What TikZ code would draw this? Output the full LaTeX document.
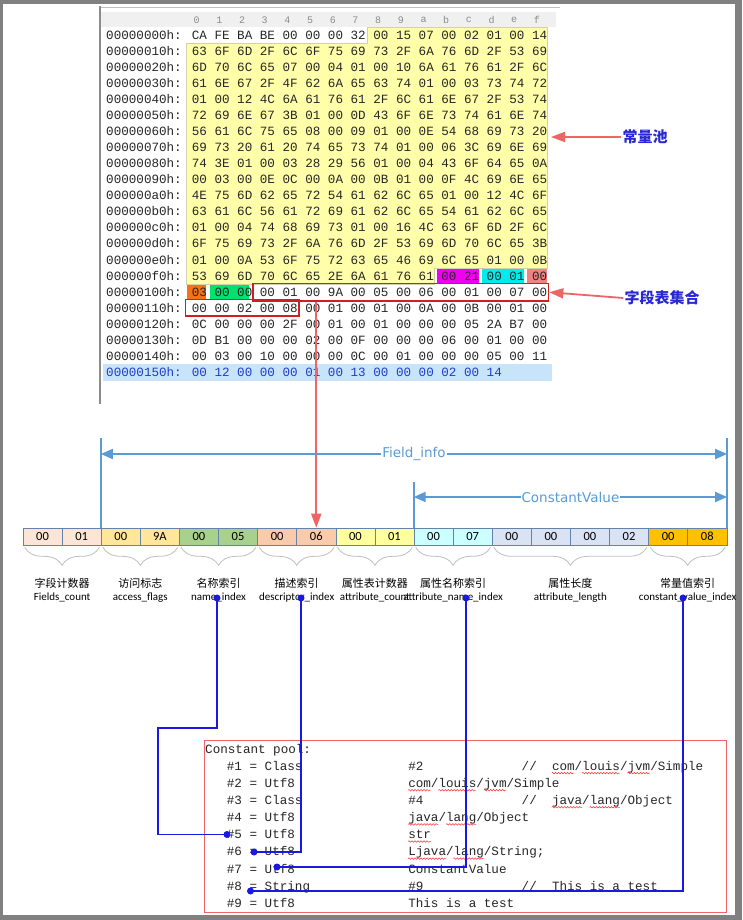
\documentclass[tikz,border=0pt]{standalone}
\usepackage{fontspec}
\newfontfamily\hexfont{Liberation Mono}
\newfontfamily\cjkfont{Noto Sans CJK SC}
\newfontfamily\latinfont{Carlito}
\newfontfamily\dimfont{DejaVu Sans}
\usepackage{tikz}
\usetikzlibrary{calc, arrows.meta, positioning, decorations.pathreplacing, decorations.pathmorphing}
\definecolor{framegray}{RGB}{128,128,128}
\definecolor{hexyellow}{RGB}{255,255,170}
\definecolor{hexmagenta}{RGB}{240,0,240}
\definecolor{hexcyan}{RGB}{0,235,235}
\definecolor{hexsalmon}{RGB}{240,130,130}
\definecolor{hexorange}{RGB}{245,115,20}
\definecolor{hexgreen}{RGB}{0,225,110}
\definecolor{rowblue}{RGB}{200,228,250}
\definecolor{addrblue}{RGB}{30,60,200}
\definecolor{boxred}{RGB}{210,30,30}
\definecolor{arrowred}{RGB}{240,100,100}
\definecolor{dimblue}{RGB}{91,155,213}
\definecolor{linkblue}{RGB}{25,25,225}
\definecolor{labelblue}{RGB}{40,40,215}
\definecolor{cellline}{RGB}{100,130,170}
\definecolor{cpeach}{RGB}{252,228,214}
\definecolor{cgold}{RGB}{255,230,153}
\definecolor{cgreen}{RGB}{169,209,142}
\definecolor{csalmon}{RGB}{248,203,173}
\definecolor{cyellow}{RGB}{255,255,160}
\definecolor{ccyan}{RGB}{204,255,255}
\definecolor{clav}{RGB}{218,227,243}
\definecolor{corange}{RGB}{255,192,0}

\begin{document}
\begin{tikzpicture}[
  x=1pt, y=-1pt,
  hexrow/.style={anchor=base west, inner sep=0pt, font=\hexfont\fontsize{12.6}{15}\selectfont, text=black!85},
  coldigit/.style={inner sep=0pt, font=\hexfont\fontsize{10}{12}\selectfont, text=black!45},
  cell/.style={draw=cellline, line width=0.6pt, minimum width=39.1pt, minimum height=17pt,
    inner sep=0pt, font=\latinfont\fontsize{12.5}{14}\selectfont},
  fieldbrace/.style={draw=black!25, line width=0.8pt, decorate, decoration={brace, mirror, amplitude=18pt}},
  cnlabel/.style={inner sep=0pt, font=\cjkfont\fontsize{11}{13}\selectfont},
  enlabel/.style={inner sep=0pt, font=\latinfont\fontsize{11}{13}\selectfont},
  dimline/.style={draw=dimblue, line width=2pt},
  dimarrow/.style={dimline, {Triangle[length=12pt,width=10pt]}-{Triangle[length=12pt,width=10pt]}},
  dimtext/.style={fill=white, inner sep=1pt, text=dimblue, font=\dimfont\fontsize{13.5}{15}\selectfont},
  redbox/.style={draw=boxred, line width=1.6pt, inner sep=0pt},
  redarrow/.style={draw=arrowred, line width=1.8pt, -{Triangle[length=14pt,width=10pt]}},
  callout/.style={inner sep=1pt, text=labelblue, font=\cjkfont\bfseries\fontsize{15}{17}\selectfont},
  link/.style={draw=linkblue, line width=1.8pt},
  linkdot/.style={circle, fill=linkblue, inner sep=0pt, minimum size=7pt},
  spellwave/.style={draw=red!80, line width=0.5pt, decorate, decoration={snake, amplitude=0.8pt, segment length=3pt}}
]
\useasboundingbox (0,0) rectangle (742,920);
% screenshot frame
\fill[framegray] (0,0) rectangle (742,920);
\fill[white] (3,4) rectangle (735,915);

% hex editor panel
\draw[black!25] (100,7) -- (560,7);
\fill[black!6] (101,12) rectangle (556,27);
\draw[black!45, line width=1.2pt] (100,6) -- (100,404);
\foreach \j/\d in {0/0,1/1,2/2,3/3,4/4,5/5,6/6,7/7,8/8,9/9,10/a,11/b,12/c,13/d,14/e,15/f}
  \node[coldigit] (col\j) at ({196.7+22.68*\j},20) {\d};

% highlighted bytes
\filldraw[fill=hexyellow, draw=hexyellow!70!black!60, line width=0.6pt]
  (367.6,27) -- (547.5,27) -- (547.5,267.8) -- (434.1,267.8) -- (434.1,283.8)
  -- (186,283.8) -- (186,43) -- (367.6,43) -- cycle;
\fill[hexmagenta] (436.7,268.5) rectangle (478.5,283);
\fill[hexcyan] (482,268.5) rectangle (523.8,283);
\fill[hexsalmon] (527.4,268.5) rectangle (546.5,283);
\fill[hexorange] (187.2,284.5) rectangle (206.3,299);
\fill[hexgreen] (209.9,284.5) rectangle (249,299);
\fill[rowblue] (103,364) rectangle (552,380.5);

\foreach \i/\addr/\bytes in {
  0/00000000h/{CA FE BA BE 00 00 00 32 00 15 07 00 02 01 00 14},
  1/00000010h/{63 6F 6D 2F 6C 6F 75 69 73 2F 6A 76 6D 2F 53 69},
  2/00000020h/{6D 70 6C 65 07 00 04 01 00 10 6A 61 76 61 2F 6C},
  3/00000030h/{61 6E 67 2F 4F 62 6A 65 63 74 01 00 03 73 74 72},
  4/00000040h/{01 00 12 4C 6A 61 76 61 2F 6C 61 6E 67 2F 53 74},
  5/00000050h/{72 69 6E 67 3B 01 00 0D 43 6F 6E 73 74 61 6E 74},
  6/00000060h/{56 61 6C 75 65 08 00 09 01 00 0E 54 68 69 73 20},
  7/00000070h/{69 73 20 61 20 74 65 73 74 01 00 06 3C 69 6E 69},
  8/00000080h/{74 3E 01 00 03 28 29 56 01 00 04 43 6F 64 65 0A},
  9/00000090h/{00 03 00 0E 0C 00 0A 00 0B 01 00 0F 4C 69 6E 65},
  10/000000a0h/{4E 75 6D 62 65 72 54 61 62 6C 65 01 00 12 4C 6F},
  11/000000b0h/{63 61 6C 56 61 72 69 61 62 6C 65 54 61 62 6C 65},
  12/000000c0h/{01 00 04 74 68 69 73 01 00 16 4C 63 6F 6D 2F 6C},
  13/000000d0h/{6F 75 69 73 2F 6A 76 6D 2F 53 69 6D 70 6C 65 3B},
  14/000000e0h/{01 00 0A 53 6F 75 72 63 65 46 69 6C 65 01 00 0B},
  15/000000f0h/{53 69 6D 70 6C 65 2E 6A 61 76 61 00 21 00 01 00},
  16/00000100h/{03 00 00 00 01 00 9A 00 05 00 06 00 01 00 07 00},
  17/00000110h/{00 00 02 00 08 00 01 00 01 00 0A 00 0B 00 01 00},
  18/00000120h/{0C 00 00 00 2F 00 01 00 01 00 00 00 05 2A B7 00},
  19/00000130h/{0D B1 00 00 00 02 00 0F 00 00 00 06 00 01 00 00},
  20/00000140h/{00 03 00 10 00 00 00 0C 00 01 00 00 00 05 00 11}}
  \node[hexrow] (row\i) at (106,{39.3+16.05*\i}) {\addr: \bytes};
\node[hexrow, text=addrblue] (row21) at (106,{39.3+16.05*21}) {00000150h: 00 12 00 00 00 01 00 13 00 00 00 02 00 14};

\node[redbox, minimum width=295.5pt, minimum height=17.5pt] (fbox1) at (400.75,292.25) {};
\node[redbox, minimum width=113.5pt, minimum height=16.5pt] (fbox2) at (242.25,307.75) {};

% callouts
\node[callout] (poolLbl) at (645,137) {常量池};
\coordinate (poolEdge) at (551,137);
\draw[redarrow] (poolLbl.west) -- (poolEdge);
\node[callout] (fieldLbl) at (662,298) {字段表集合};
\draw[redarrow] (fieldLbl.west) -- (fbox1.east);

% field_info bytes
\foreach \i/\v/\c in {0/00/cpeach, 1/01/cpeach, 2/00/cgold, 3/9A/cgold, 4/00/cgreen, 5/05/cgreen,
  6/00/csalmon, 7/06/csalmon, 8/00/cyellow, 9/01/cyellow, 10/00/ccyan, 11/07/ccyan,
  12/00/clav, 13/00/clav, 14/00/clav, 15/02/clav, 16/00/corange, 17/08/corange}
  \node[cell, fill=\c] (c\i) at ({42.55+39.1*\i},536.5) {\v};

\draw[redarrow] (fbox1.south -| c7.north) -- (c7.north);

\foreach \a/\b/\cn/\en/\g in {0/1/字段计数器/Fields\_count/0, 2/3/访问标志/access\_flags/1,
  4/5/名称索引/name\_index/2, 6/7/描述索引/descriptor\_index/3,
  8/9/属性表计数器/attribute\_count/4, 10/11/属性名称索引/attribute\_name\_index/5,
  12/15/属性长度/attribute\_length/6, 16/17/常量值索引/constant\_value\_index/7}{
  \draw[fieldbrace] ([xshift=2pt,yshift=-2pt]c\a.south west) -- ([xshift=-2pt,yshift=-2pt]c\b.south east);
  \node[cnlabel] (cn\g) at ($(c\a.south west)!0.5!(c\b.south east)+(0,38)$) {\cn};
  \node[enlabel] (en\g) at ($(c\a.south west)!0.5!(c\b.south east)+(0,52)$) {\en};
}

% dimension lines
\coordinate (fieldY) at (0,454);
\coordinate (constY) at (0,497);
\draw[dimline] (c2.north west) -- ++(0,-90);
\draw[dimline] (c17.north east) -- ++(0,-90);
\draw[dimline] (c10.north west) -- ++(0,-46);
\draw[dimarrow] (c2.north west |- fieldY) -- (c17.north east |- fieldY)
  node[midway, dimtext] (fieldDim) {Field\_info};
\draw[dimarrow] (c10.north west |- constY) -- (c17.north east |- constY)
  node[midway, dimtext] (constDim) {ConstantValue};

% constant pool listing
\draw[arrowred, line width=0.8pt] (204,740) rectangle (726,912);
\node[hexrow] (cphead) at (205,753.3) {Constant pool:};
\foreach \k/\lhs/\rhs in {1/{\#1 = Class}/{\#2}, 2/{\#2 = Utf8}/{com/louis/jvm/Simple},
  3/{\#3 = Class}/{\#4}, 4/{\#4 = Utf8}/{java/lang/Object}, 5/{\#5 = Utf8}/{str},
  6/{\#6 = Utf8}/{Ljava/lang/String;}, 7/{\#7 = Utf8}/{ConstantValue},
  8/{\#8 = String}/{\#9}, 9/{\#9 = Utf8}/{This is a test}}{
  \node[hexrow] (cp\k) at (226.7,{753.3+17.1*\k}) {\lhs};
  \node[hexrow] (cpv\k) at (408.1,{753.3+17.1*\k}) {\rhs};
}
\foreach \k/\cmt in {1/{com/louis/jvm/Simple}, 3/{java/lang/Object}, 8/{This is a test}}{
  \node[hexrow] (cpc\k) at (521.5,{753.3+17.1*\k}) {//};
  \node[hexrow] (cpt\k) at (551.8,{753.3+17.1*\k}) {\cmt};
}
\foreach \k/\c/\n in {1/46/3, 1/50/5, 1/56/3, 2/27/3, 2/31/5, 2/37/3, 3/46/4, 3/51/4,
  4/27/4, 4/32/4, 5/27/3, 6/27/5, 6/33/4}
  \draw[spellwave] ({204+7.56*\c},{756+17.1*\k}) -- ++({7.56*\n},0);

% index links
\node[linkdot] (dname) at (217,598) {};
\node[linkdot] (ddesc) at (301,598) {};
\node[linkdot] (dattr) at (466,598) {};
\node[linkdot] (dconst) at (683,598) {};
\node[linkdot] (p5) at (227,834.5) {};
\node[linkdot] (p6) at (254,852) {};
\node[linkdot] (p7) at (277,867) {};
\node[linkdot] (p8) at (250.5,891) {};
\draw[link] (dname.center) |- (158,728) |- (p5.center);
\draw[link] (ddesc.center) |- (p6.center);
\draw[link] (dattr.center) |- (p7.center);
\draw[link] (dconst.center) |- (p8.center);
\end{tikzpicture}
\end{document}
